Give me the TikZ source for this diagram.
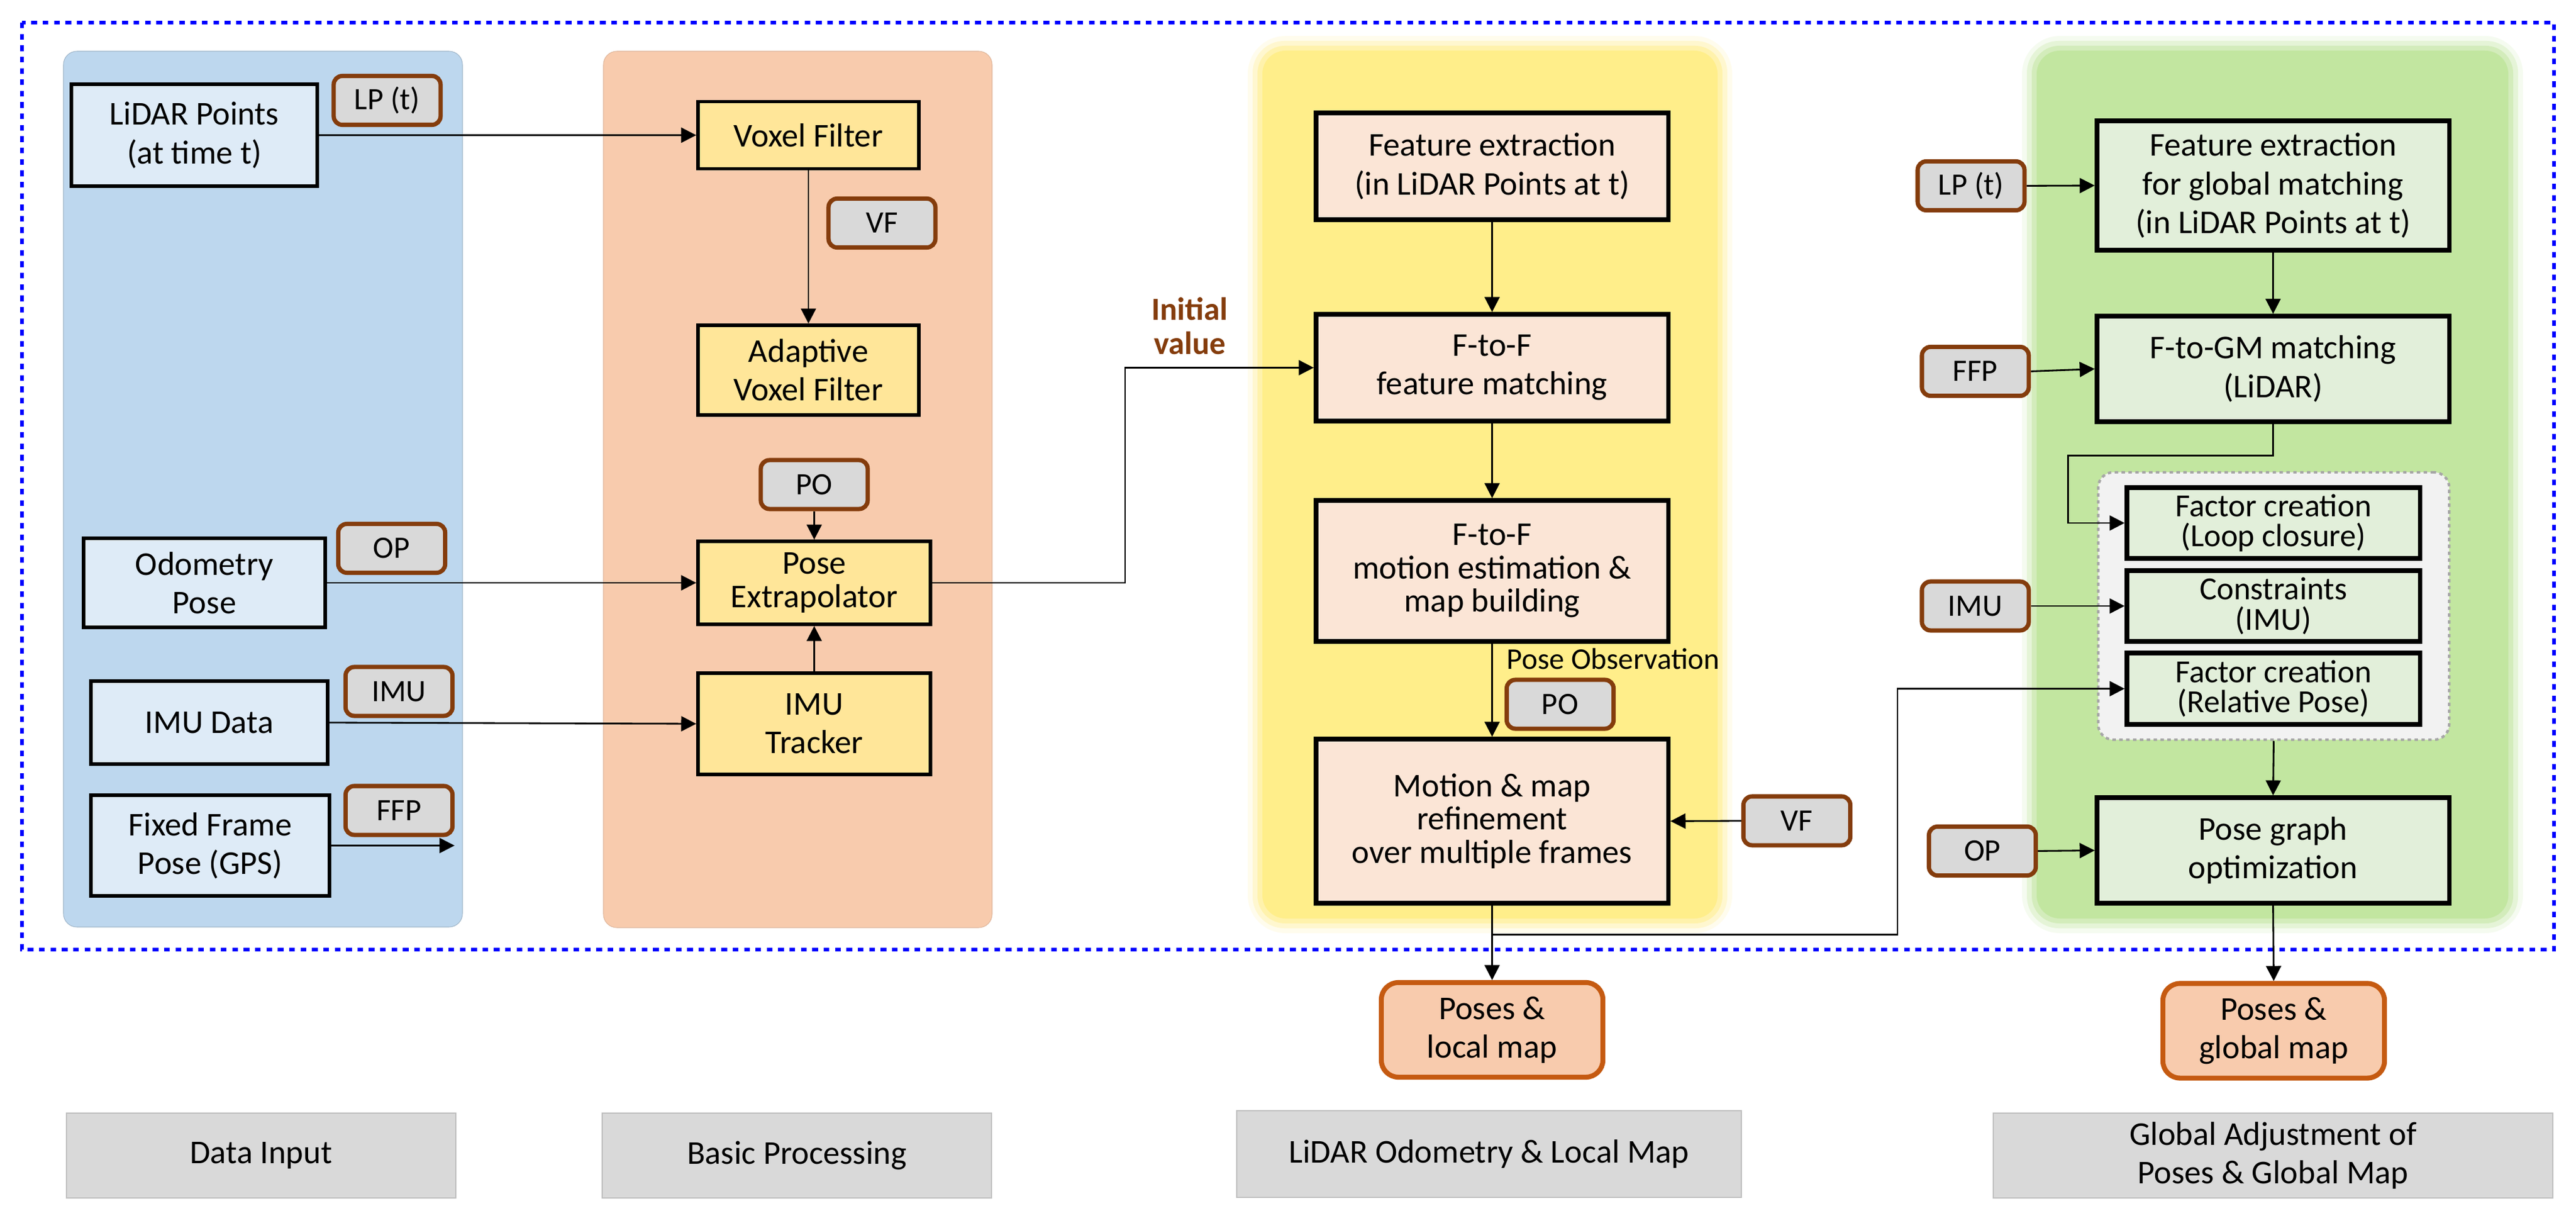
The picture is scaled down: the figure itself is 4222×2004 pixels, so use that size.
\documentclass[tikz,border=0pt]{standalone}
\usepackage{fontspec}
\setmainfont{Carlito}
\usetikzlibrary{arrows.meta}

\definecolor{inbg}{HTML}{BDD7EE}
\definecolor{infill}{HTML}{DEEBF7}
\definecolor{prbg}{HTML}{F8CBAD}
\definecolor{prfill}{HTML}{FFE699}
\definecolor{odbg}{HTML}{FFEE8A}
\definecolor{odfill}{HTML}{FBE5D6}
\definecolor{glbg}{HTML}{C2E6A0}
\definecolor{glfill}{HTML}{E2EFDA}
\definecolor{grpfill}{HTML}{F2F2F2}
\definecolor{grpedge}{HTML}{A6A6A6}
\definecolor{taggray}{HTML}{D9D9D9}
\definecolor{tagbrown}{HTML}{843C0C}
\definecolor{outfill}{HTML}{F8CBAD}
\definecolor{outedge}{HTML}{C55A11}
\definecolor{labgray}{HTML}{D9D9D9}
\definecolor{labedge}{HTML}{BFBFBF}

\newcommand\boxfont{\fontsize{15.5}{18}\selectfont}
\newcommand\midfont{\fontsize{15.5}{15.5}\selectfont}
\newcommand\tightfont{\fontsize{15}{14}\selectfont}
\newcommand\tagfont{\fontsize{14.5}{17}\selectfont}

\tikzset{
  box/.style={draw, align=center, inner sep=0pt, font=\boxfont},
  inbox/.style={box, fill=infill, line width=1.6pt},
  prbox/.style={box, fill=prfill, line width=1.6pt},
  odbox/.style={box, fill=odfill, line width=2.1pt},
  glbox/.style={box, fill=glfill, line width=2.1pt},
  midbox/.style={font=\midfont},
  tightbox/.style={font=\tightfont},
  tagbox/.style={draw=tagbrown, fill=taggray, line width=2pt,
    rounded corners=0.14cm, inner sep=0pt, font=\tagfont,
    minimum width=1.75cm, minimum height=0.8cm},
  outbox/.style={box, draw=outedge, fill=outfill, line width=2.3pt,
    rounded corners=0.28cm, minimum width=3.63cm, minimum height=1.55cm},
  labbox/.style={draw=labedge, fill=labgray, line width=0.6pt,
    align=center, inner sep=0pt, font=\boxfont, minimum height=1.39cm},
  wire/.style={line width=0.8pt},
  arr/.style={wire, -{Triangle[length=7pt,width=7pt]}}
}

\begin{document}
\begin{tikzpicture}[x=0.01cm, y=-0.01cm]
  \useasboundingbox (0,0) rectangle (4222,2004);
  \fill[white] (0,0) rectangle (4222,2004);

  % stage backgrounds
  \filldraw[fill=inbg, draw=inbg!85!black, line width=0.3pt, rounded corners=0.22cm]
    (104,84) rectangle (758,1519);
  \filldraw[fill=prbg, draw=prbg!90!black, line width=0.3pt, rounded corners=0.22cm]
    (989,84) rectangle (1626,1520);
  % soft glow round the two right stages
  \fill[odbg, opacity=0.15, rounded corners=0.62cm] (2045,59) rectangle (2839,1529);
  \fill[odbg, opacity=0.3, rounded corners=0.52cm] (2053,67) rectangle (2831,1521);
  \fill[odbg, opacity=0.5, rounded corners=0.45cm] (2061,75) rectangle (2823,1513);
  \fill[odbg, rounded corners=0.38cm] (2069,83) rectangle (2815,1505);
  \fill[glbg, opacity=0.15, rounded corners=0.62cm] (3314,59) rectangle (4135,1529);
  \fill[glbg, opacity=0.3, rounded corners=0.52cm] (3322,67) rectangle (4127,1521);
  \fill[glbg, opacity=0.5, rounded corners=0.45cm] (3330,75) rectangle (4119,1513);
  \fill[glbg, rounded corners=0.38cm] (3338,83) rectangle (4111,1505);

  % system frame
  \draw[blue, line width=1.5pt, dash pattern=on 2.65pt off 2.65pt]
    (36,37) rectangle (4186,1556);

  % data input
  \node[inbox, minimum width=4.03cm, minimum height=1.67cm] (lidar) at (318.5,221.5)
    {LiDAR Points\\(at time t)};
  \node[inbox, minimum width=3.96cm, minimum height=1.46cm] (odom) at (335,955)
    {Odometry\\Pose};
  \node[inbox, minimum width=3.88cm, minimum height=1.36cm] (imudata) at (343,1184)
    {IMU Data};
  \node[inbox, minimum width=3.91cm, minimum height=1.65cm] (ffp) at (344.5,1385.5)
    {Fixed Frame\\Pose (GPS)};
  \node[tagbox] (tagLP) at (634.5,164.5) {LP (t)};
  \node[tagbox] (tagOP) at (642,898.5) {OP};
  \node[tagbox] (tagIMU) at (654,1133) {IMU};
  \node[tagbox] (tagFFP) at (654,1328) {FFP};
  \coordinate (ffpend) at (745,1385.5);

  % basic processing
  \node[prbox, minimum width=3.62cm, minimum height=1.1cm] (voxel) at (1325,221.5)
    {Voxel Filter};
  \node[prbox, minimum width=3.62cm, minimum height=1.47cm] (adaptive) at (1325,606.5)
    {Adaptive\\Voxel Filter};
  \node[prbox, midbox, minimum width=3.81cm, minimum height=1.36cm] (poseext) at (1334.5,955)
    {Pose\\Extrapolator};
  \node[prbox, minimum width=3.81cm, minimum height=1.66cm] (imutrack) at (1334.5,1186)
    {IMU\\Tracker};
  \node[tagbox] (tagVF) at (1445.5,365.5) {VF};
  \node[tagbox] (tagPO) at (1334.5,794) {PO};

  % lidar odometry & local map
  \node[odbox, minimum width=5.77cm, minimum height=1.75cm] (featext) at (2445.5,272.5)
    {Feature extraction\\(in LiDAR Points at t)};
  \node[odbox, minimum width=5.77cm, minimum height=1.75cm] (ffmatch) at (2445.5,602.5)
    {F-to-F\\feature matching};
  \node[odbox, midbox, minimum width=5.77cm, minimum height=2.31cm] (motion) at (2445.5,935.5)
    {F-to-F\\motion estimation \&\\map building};
  \node[odbox, midbox, minimum width=5.77cm, minimum height=2.69cm] (refine) at (2445.5,1345.5)
    {Motion \& map\\refinement\\over multiple frames};
  \node[anchor=west, inner sep=0pt, font=\fontsize{14}{16}\selectfont] (poseobs) at (2469,1080)
    {Pose Observation};
  \node[tagbox] (tagPOb) at (2557,1154) {PO};
  \node[tagbox] (tagVFb) at (2945,1345) {VF};
  \node[outbox] (localmap) at (2445.5,1687.5) {Poses \&\\local map};
  \node[text=tagbrown, align=center, inner sep=0pt,
    font=\fontsize{15}{16}\selectfont\bfseries] (initval) at (1950,534) {Initial\\value};

  % global adjustment
  \node[glbox, minimum width=5.77cm, minimum height=2.12cm] (featglob) at (3725.5,304)
    {Feature extraction\\for global matching\\(in LiDAR Points at t)};
  \node[glbox, minimum width=5.77cm, minimum height=1.73cm] (gmmatch) at (3725.5,604.5)
    {F-to-GM matching\\(LiDAR)};
  \node[draw=grpedge, fill=grpfill, line width=1.2pt, dash pattern=on 1.6pt off 1.6pt,
    rounded corners=0.25cm, minimum width=5.75cm, minimum height=4.38cm] (factgrp) at (3726.5,993) {};
  \node[glbox, tightbox, minimum width=4.8cm, minimum height=1.16cm] (loopfac) at (3726,857)
    {Factor creation\\(Loop closure)};
  \node[glbox, tightbox, minimum width=4.8cm, minimum height=1.16cm] (imucons) at (3726,993)
    {Constraints\\(IMU)};
  \node[glbox, tightbox, minimum width=4.8cm, minimum height=1.17cm] (relpose) at (3726,1128.5)
    {Factor creation\\(Relative Pose)};
  \node[glbox, minimum width=5.77cm, minimum height=1.73cm] (posegraph) at (3725.5,1393.5)
    {Pose graph\\optimization};
  \node[outbox] (globalmap) at (3726.5,1689) {Poses \&\\global map};
  \node[tagbox] (tagLPg) at (3230.5,304.5) {LP (t)};
  \node[tagbox] (tagFFPg) at (3237.5,608.5) {FFP};
  \node[tagbox] (tagIMUg) at (3237.5,993) {IMU};
  \node[tagbox] (tagOPg) at (3249,1394.5) {OP};

  % stage names
  \node[labbox, minimum width=6.38cm] (labinput) at (428,1893.5) {Data Input};
  \node[labbox, minimum width=6.38cm] (labbasic) at (1306,1893.5) {Basic Processing};
  \node[labbox, minimum width=8.27cm, minimum height=1.42cm] (labodom) at (2440.5,1891)
    {LiDAR Odometry \& Local Map};
  \node[labbox, minimum width=9.17cm] (labglobal) at (3725.5,1893.5)
    {Global Adjustment of\\Poses \& Global Map};

  % connectors
  \draw[arr] (lidar.east) -- (voxel.west);
  \draw[arr] (odom.east) -- (poseext.west);
  \draw[arr] (imudata.east) -- (imutrack.west);
  \draw[arr] (ffp.east) -- (ffpend);
  \draw[arr] (voxel.south) -- (adaptive.north);
  \draw[arr] (tagPO.south) -- (poseext.north);
  \draw[arr] (imutrack.north) -- (poseext.south);
  \draw[arr] (poseext.east) -- ++(316,0) |- (ffmatch.west);
  \draw[arr] (featext.south) -- (ffmatch.north);
  \draw[arr] (ffmatch.south) -- (motion.north);
  \draw[arr] (motion.south) -- (refine.north);
  \draw[arr] (tagVFb.west) -- (refine.east);
  \draw[arr] (refine.south) -- (localmap.north);
  \draw[arr] (refine.south) ++(0,48) -- ++(664.5,0) |- (relpose.west);
  \draw[arr] (tagLPg.east) -- (featglob.west);
  \draw[arr] (featglob.south) -- (gmmatch.north);
  \draw[arr] (tagFFPg.east) -- (gmmatch.west);
  \draw[arr] (gmmatch.south) -- ++(0,52) -- ++(-336,0) |- (loopfac.west);
  \draw[arr] (tagIMUg.east) -- (imucons.west);
  \draw[arr] (factgrp.south) -- (posegraph.north);
  \draw[arr] (tagOPg.east) -- (posegraph.west);
  \draw[arr] (posegraph.south) -- (globalmap.north);
\end{tikzpicture}
\end{document}
